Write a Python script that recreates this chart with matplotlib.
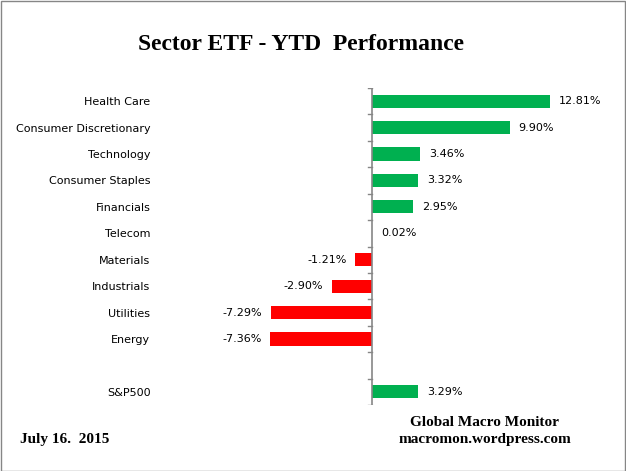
import numpy as np
import matplotlib.pyplot as plt
from matplotlib.patches import Rectangle

sectors = ['Health Care', 'Consumer Discretionary', 'Technology', 'Consumer Staples',
           'Financials', 'Telecom', 'Materials', 'Industrials', 'Utilities', 'Energy',
           '', 'S&P500']
ytd = [12.81, 9.90, 3.46, 3.32, 2.95, 0.02, -1.21, -2.90, -7.29, -7.36, np.nan, 3.29]

green = '#00B050'
red = '#FF0000'
axis_gray = '#868686'

fig = plt.figure(figsize=(6.26, 4.71), dpi=100)
# axes placed so that zero sits at x=372px, rows span y=88..405px
W, H = 626, 471
left_px, right_px = 156, 610
top_px, bot_px = 88, 405
ax = fig.add_axes([left_px / W, 1 - bot_px / H, (right_px - left_px) / W, (bot_px - top_px) / H])

ppp = 13.9  # pixels per percent
xmin = (left_px - 372) / ppp
xmax = (right_px - 372) / ppp
ax.set_xlim(xmin, xmax)
n = len(sectors)
ax.set_ylim(n - 0.5, -0.5)

y = np.arange(n)
vals = np.array(ytd)
colors = [green if v >= 0 else red for v in np.nan_to_num(vals)]
ax.barh(y, np.nan_to_num(vals), height=0.5, color=colors)

for yi, v in zip(y, vals):
    if np.isnan(v):
        continue
    if v >= 0:
        ax.annotate(f'{v:.2f}%', (v, yi), xytext=(6.5, 0), textcoords='offset points',
                    ha='left', va='center', fontsize=8, fontfamily='DejaVu Sans')
    else:
        ax.annotate(f'{v:.2f}%', (v, yi), xytext=(-6, 0), textcoords='offset points',
                    ha='right', va='center', fontsize=8, fontfamily='DejaVu Sans')

# zero axis with tick marks at category boundaries
ax.plot([0, 0], [-0.5, n - 0.5], color=axis_gray, lw=1.2, zorder=3)
tick_len = 4 / ppp
for b in np.arange(-0.5, n, 1.0):
    ax.plot([-tick_len, 0], [b, b], color=axis_gray, lw=1, zorder=3)

ax.set_yticks(y)
ax.set_yticklabels(sectors, fontsize=8, fontfamily='DejaVu Sans')
ax.tick_params(axis='y', length=0, pad=4)
ax.set_xticks([])
for s in ax.spines.values():
    s.set_visible(False)

fig.text(301 / W, 1 - 45 / H, 'Sector ETF - YTD  Performance', ha='center', va='center',
         fontsize=17, fontweight='bold', fontfamily='Liberation Serif')
fig.text(20 / W, 1 - 439 / H, 'July 16.  2015', ha='left', va='center',
         fontsize=11, fontweight='bold', fontfamily='Liberation Serif')
fig.text(485 / W, 1 - 422 / H, 'Global Macro Monitor', ha='center', va='center',
         fontsize=11, fontweight='bold', fontfamily='Liberation Serif')
fig.text(485 / W, 1 - 439 / H, 'macromon.wordpress.com', ha='center', va='center',
         fontsize=11, fontweight='bold', fontfamily='Liberation Serif')

fig.patches.append(Rectangle((0.5 / W, 0.5 / H), 1 - 1.5 / W, 1 - 1.5 / H,
                             transform=fig.transFigure, fill=False,
                             edgecolor=axis_gray, lw=1))

fig.savefig('out.png', dpi=100)
